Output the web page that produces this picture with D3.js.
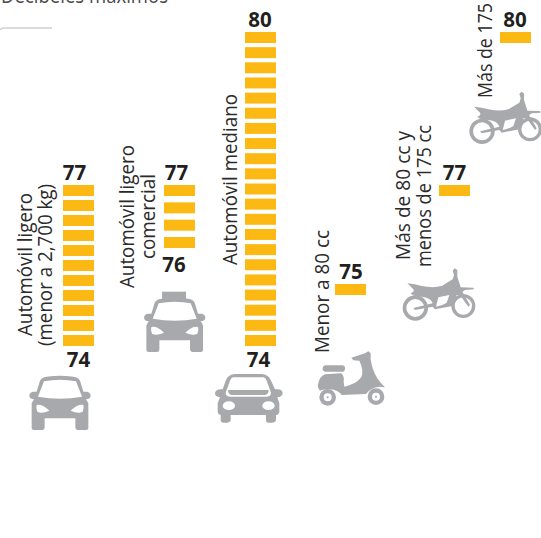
<!DOCTYPE html>
<html>
<head>
<meta charset="utf-8">
<script src="https://cdn.jsdelivr.net/npm/d3@7"></script>
<style>
  html, body { margin: 0; padding: 0; background: #fff; overflow: hidden; }
  svg { display: block; }
  text { font-family: "Open Sans", sans-serif; }
</style>
</head>
<body>
<div id="container"></div>
<script>
// Datos
const categories = ["ligero", "comercial", "mediano", "menor80", "de80a175", "mas175"];
const maxValues = [77, 77, 80, 75, 77, 80];
const minValues = [74, 76, 74, 75, 77, 80];
const segments = [11, 4, 21, 1, 1, 1];
const labels = [
  ["Automóvil ligero", "(menor a 2,700 kg)"],
  ["Automóvil ligero", "comercial"],
  ["Automóvil mediano"],
  ["Menor a 80 cc"],
  ["Más de 80 cc y", "menos de 175 cc"],
  ["Más de 175"]
];
const title = "Decibeles máximos";

const WIDTH = 541, HEIGHT = 538;
const BAR_W = 31, BAR_H = 11;

// Posicion de cada columna y de sus textos
const barX = [63, 164, 245, 335, 439, 500];
const maxLabelX = [74.5, 176.5, 260, 351, 454.5, 515];
const minLabelX = [78.5, 174, 258.5, null, null, null];
const minLabelY = [367, 272, 367, null, null, null];
const labelLines = [
  [{x: 32, y: 336, len: 143}, {x: 52, y: 346, len: 162}],
  [{x: 134, y: 288, len: 143}, {x: 155, y: 259, len: 85}],
  [{x: 237, y: 265, len: 171}],
  [{x: 329, y: 353, len: 123}],
  [{x: 410, y: 260, len: 129}, {x: 431, y: 267, len: 142}],
  [{x: 492, y: 98, len: 95}]
];

const svg = d3.select("#container").append("svg")
  .attr("width", WIDTH)
  .attr("height", HEIGHT);

svg.append("rect").attr("width", WIDTH).attr("height", HEIGHT).attr("fill", "#fff");

// Escalas
const xScale = d3.scaleOrdinal().domain(categories).range(barX);
const yScale = d3.scaleLinear()
  .domain([74, 75, 76, 77, 80])
  .range([335, 284, 237, 185, 32]);

// Titulo cortado arriba y la linea gris
svg.append("text")
  .attr("x", 1).attr("y", 3)
  .attr("font-size", 21)
  .attr("fill", "#4a4a4a")
  .attr("textLength", 167)
  .attr("lengthAdjust", "spacingAndGlyphs")
  .text(title);

svg.append("path")
  .attr("d", "M0,30 Q1,28 4,28 L52,28")
  .attr("fill", "none")
  .attr("stroke", "#d0d0d0")
  .attr("stroke-width", 1.5);

// Barras por segmentos
const rows = categories.map((c, i) => ({
  cat: c, max: maxValues[i], min: minValues[i], n: segments[i], idx: i
}));

const segs = rows.flatMap((d) => d3.range(d.n).map((k) => {
  const top = yScale(d.max), bottom = yScale(d.min);
  return {cat: d.cat, y: d.n > 1 ? top + k * (bottom - top) / (d.n - 1) : top};
}));

svg.append("g").selectAll("rect")
  .data(segs)
  .join("rect")
  .attr("x", (d) => xScale(d.cat))
  .attr("y", (d) => d.y)
  .attr("width", BAR_W)
  .attr("height", BAR_H)
  .attr("fill", "#FDB913");

// Numeros
const numbers = svg.append("g")
  .attr("font-size", 20.5)
  .attr("font-weight", 700)
  .attr("fill", "#231f20")
  .attr("text-anchor", "middle");

numbers.selectAll("text.max")
  .data(rows)
  .join("text")
  .attr("class", "max")
  .attr("x", (d) => maxLabelX[d.idx])
  .attr("y", (d) => yScale(d.max) - 5.5)
  .text((d) => d.max);

numbers.selectAll("text.min")
  .data(rows.filter((d) => d.n > 1))
  .join("text")
  .attr("class", "min")
  .attr("x", (d) => minLabelX[d.idx])
  .attr("y", (d) => minLabelY[d.idx])
  .text((d) => d.min);

// Etiquetas giradas
const lineData = labels.flatMap((lines, i) => lines.map((t, j) => ({t, pos: labelLines[i][j]})));

svg.append("g").selectAll("text")
  .data(lineData)
  .join("text")
  .attr("transform", (d) => `translate(${d.pos.x},${d.pos.y}) rotate(-90)`)
  .attr("font-size", 20.5)
  .attr("fill", "#2b2b2b")
  .attr("textLength", (d) => d.pos.len)
  .attr("lengthAdjust", "spacingAndGlyphs")
  .text((d) => d.t);

// Iconos (trazados a escala 3x)
const ring = (cx, cy, r) => `M${cx - r},${cy} a${r},${r} 0 1,0 ${2 * r},0 a${r},${r} 0 1,0 ${-2 * r},0 Z`;

const carBody = "M120,632 Q125,622 140,620 Q180,615 220,620 Q235,622 240,632 L250,665 L262,665 Q272,668 272,678 Q270,688 258,688 L265,700 L265,775 Q265,780 258,780 L232,780 Q226,780 226,772 L226,745 L134,745 L134,772 Q134,780 128,780 L102,780 Q95,780 95,775 L95,700 L102,688 Q90,688 88,678 Q88,668 98,665 L110,665 Z"
  + " M132,634 Q180,625 228,634 L246,680 Q180,692 114,680 Z"
  + " M110,705 Q125,700 148,722 Q125,732 112,725 Q107,715 110,705 Z"
  + " M250,705 Q235,700 212,722 Q235,732 248,725 Q253,715 250,705 Z";

const taxiSign = "M142,599 L214,599 L214,625 L142,625 Z";

const sedan = "M678,630 Q685,614 705,612 L785,612 Q805,614 812,630 L825,658 L835,658 Q848,660 848,670 Q846,682 832,682 L838,700 L838,725 Q836,735 828,735 L828,750 Q826,758 815,758 L805,758 Q798,758 798,750 L798,735 L692,735 L692,750 Q690,758 680,758 L672,758 Q662,758 662,750 L662,735 Q653,733 653,722 L653,700 L660,682 Q645,680 645,670 Q646,660 660,658 L668,658 Z"
  + " M700,622 L790,622 Q796,622 800,632 L813,668 Q813,680 798,680 L692,680 Q677,680 677,668 L690,632 Q694,622 700,622 Z"
  + " M684,660 L806,660 Q806,672 796,675 L694,675 Q684,672 684,660 Z"
  + " M668,707 a18.5,13 0 1,0 37,0 a18.5,13 0 1,0 -37,0 Z"
  + " M787,707 a18.5,13 0 1,0 37,0 a18.5,13 0 1,0 -37,0 Z";

const scooter = "M55,610 Q58,590 75,583 L124,580 Q134,590 131,605 L133,620 Q165,615 184,592 Q192,570 178,542 L160,541 L154,533 L195,520 L205,514 L212,520 L212,538 Q216,570 232,595 Q240,608 255,622 L238,620 Q212,622 198,642 L125,645 Q115,630 90,628 Q70,628 60,632 Q50,622 55,610 Z"
  + " M75,556 L128,556 Q136,558 135,566 Q134,575 128,575 L75,575 Q67,573 68,565 Q68,558 75,556 Z";
const scooterWheels = ring(83, 652, 25) + ring(83, 652, 12) + ring(83, 652, 3)
  + ring(228, 650, 25) + ring(228, 650, 12) + ring(228, 650, 3);

const moto = "M322,310 Q345,312 365,318 Q400,325 425,318 L458,298 L462,285 L458,272 L464,265 L472,270 L472,290 L482,322 L520,323 L522,328 L495,330 L487,335 L510,375 L505,380 L480,345 L470,345 L458,378 L405,388 L398,380 L345,390 L340,384 L398,370 Q392,352 365,350 Q340,350 332,340 Q345,335 340,328 Z"
  + " M415,352 L448,345 L440,368 Q425,378 408,380 Z";
const motoWheels = ring(346, 384, 38) + ring(346, 384, 27) + ring(490, 378, 36) + ring(490, 378, 26);

// Las ruedas van en otro path para que no se cancelen con la carroceria
const icons = [
  {d: carBody, tx: 0, ty: 170},
  {d: carBody, tx: 114.7, ty: 92},
  {d: taxiSign, tx: 114.7, ty: 92},
  {d: sedan, tx: 0, ty: 170},
  {d: scooter, tx: 300, ty: 180},
  {d: scooterWheels, tx: 300, ty: 180},
  {d: moto, tx: 300, ty: 180},
  {d: motoWheels, tx: 300, ty: 180},
  {d: moto, tx: 366.7, ty: 3.3},
  {d: motoWheels, tx: 366.7, ty: 3.3}
];

svg.append("g").selectAll("path")
  .data(icons)
  .join("path")
  .attr("transform", (d) => `translate(${d.tx},${d.ty}) scale(${1 / 3})`)
  .attr("d", (d) => d.d)
  .attr("fill", "#A7A9AC")
  .attr("fill-rule", "evenodd");
</script>
</body>
</html>
